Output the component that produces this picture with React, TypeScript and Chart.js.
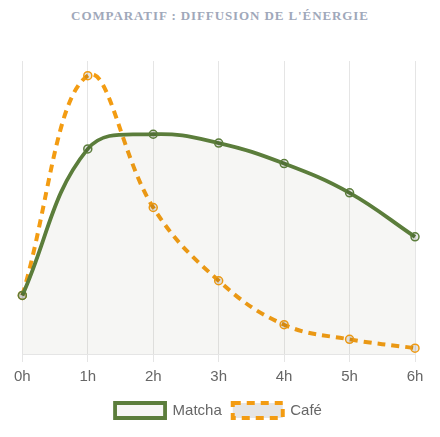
import React, { useEffect, useRef } from "react";
import { Chart, registerables } from "chart.js";

Chart.register(...registerables);

const TITLE = "COMPARATIF : DIFFUSION DE L'ÉNERGIE";
const HOURS = ["0h", "1h", "2h", "3h", "4h", "5h", "6h"];
const MATCHA = [20, 70, 75, 72, 65, 55, 40];
const CAFE = [20, 95, 50, 25, 10, 5, 2];

export default function App() {
  const ref = useRef<HTMLCanvasElement | null>(null);

  useEffect(() => {
    if (!ref.current) return;
    const chart = new Chart(ref.current, {
      type: "line",
      data: {
        labels: HOURS,
        datasets: [
          {
            label: "Matcha",
            data: MATCHA,
            borderColor: "#5b7d3b",
            backgroundColor: "rgba(100,100,60,0.06)",
            pointBackgroundColor: "rgba(0,0,0,0.1)",
            borderWidth: 3.8,
            fill: true,
            tension: 0.4,
            pointRadius: 4,
            pointBorderWidth: 1.5,
          },
          {
            label: "Café",
            data: CAFE,
            borderColor: "#f39c12",
            backgroundColor: "rgba(0,0,0,0.1)",
            borderWidth: 4,
            borderDash: [8, 6],
            fill: false,
            tension: 0.4,
            pointRadius: 4,
            pointBorderWidth: 1.5,
          },
        ],
      },
      options: {
        animation: false,
        responsive: true,
        maintainAspectRatio: false,
        layout: { padding: { top: 23, left: 14, right: 17 } },
        scales: {
          y: { display: false, min: 0, max: 100 },
          x: {
            grid: { color: "rgba(0,0,0,0.1)", tickLength: 8 },
            ticks: { color: "#666", font: { size: 15 }, padding: 6 },
          },
        },
        plugins: {
          legend: {
            position: "bottom",
            labels: {
              boxWidth: 50,
              boxHeight: 15,
              color: "#666",
              font: { size: 15 },
              padding: 11,
            },
          },
          tooltip: { enabled: false },
        },
      },
    });
    return () => chart.destroy();
  }, []);

  return (
    <div style={{ width: 424 }}>
      <div
        style={{
          height: 30,
          textAlign: "center",
          fontFamily: "'Liberation Serif', serif",
          fontWeight: "bold",
          fontSize: 13,
          letterSpacing: 0.9,
          color: "#a0a8ba",
          lineHeight: "15px",
        }}
      >
        {TITLE}
      </div>
      <div style={{ position: "relative", height: 390 }}>
        <canvas ref={ref} />
      </div>
    </div>
  );
}
